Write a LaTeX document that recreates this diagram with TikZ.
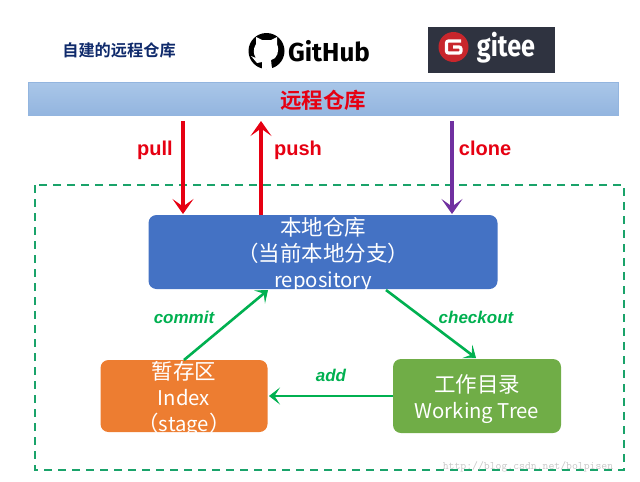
\documentclass[tikz,border=0pt]{standalone}
\usepackage{fontspec}
\setmainfont{Liberation Sans}
\newfontfamily\cjk{Noto Sans CJK SC}
\newfontfamily\cjkb{Noto Sans CJK SC Bold}
\newfontfamily\logofont{Fira Sans}
\usetikzlibrary{arrows.meta}
\newcommand{\latinpart}[1]{{\fontsize{20.3}{26}\selectfont #1}}
\definecolor{barblue}{HTML}{A9C6E8}
\definecolor{barbluedark}{HTML}{93B5DF}
\definecolor{repoblue}{HTML}{4472C4}
\definecolor{stageorange}{HTML}{ED7D31}
\definecolor{treegreen}{HTML}{70AD47}
\definecolor{flowgreen}{HTML}{00B050}
\definecolor{dashgreen}{HTML}{1AA36A}
\definecolor{pullred}{HTML}{E60012}
\definecolor{clonepurple}{HTML}{7030A0}
\definecolor{titlenavy}{HTML}{0F2A6B}
\definecolor{giteedark}{HTML}{2F3340}
\definecolor{giteered}{HTML}{C8262C}
\tikzset{
	area/.style={rounded corners=8pt,text=white,align=center,inner sep=0pt,font=\cjk\fontsize{21.5}{26}\selectfont},
	flow/.style={-{Stealth[length=11pt,width=17pt,inset=5.5pt,line width=0.8pt]},flowgreen,line width=2.6pt},
	remote/.style={-{Stealth[length=15pt,width=21pt,inset=7.5pt,line width=1pt]},line width=3.6pt},
	remotelabel/.style={font=\fontsize{20}{24}\selectfont\bfseries,pullred,inner sep=0pt,anchor=base},
	flowlabel/.style={font=\fontsize{17}{20}\selectfont\bfseries\itshape,flowgreen,inner sep=0pt}
}
\begin{document}
\begin{tikzpicture}[x=1pt,y=-1pt]
	\useasboundingbox (0,0) rectangle (640,482);
	% top row
	\node[font=\cjkb\fontsize{16.2}{18}\selectfont,titlenavy,inner sep=0pt] (selfhost) at (119,50) {自建的远程仓库};
	\fill[black] (266.5,51) circle [radius=18];
	\fill[white] (256,44) -- (256,37) -- (262,40) -- (271,40) -- (277,37) -- (277,44) .. controls (280,51) and (277,59) .. (271,60) -- (272,69) -- (262,69) -- (262,62) -- (257,63) -- (251,56) -- (256,58) .. controls (253,54) and (253,49) .. (256,44) -- cycle;
	\node[font=\logofont\fontsize{26}{28}\selectfont\bfseries,inner sep=0pt] (github) at (329,51) {GitHub};
	\fill[giteedark] (428,27) rectangle (555,73);
	\fill[giteered] (453.5,47) circle [radius=15];
	\draw[white,line width=3.2pt,rounded corners=2pt] (461,41) -- (446.5,41) -- (446.5,53) -- (461,53) -- (461,47) -- (453,47);
	\node[font=\logofont\fontsize{30}{32}\selectfont\bfseries,white,inner sep=0pt,xscale=0.84] (gitee) at (506,48) {gitee};
	% remote bar
	\node[draw=barbluedark,top color=barblue,bottom color=barbluedark,minimum width=590pt,minimum height=33pt,inner sep=0pt] (remotebar) at (323,99) {};
	\node[font=\cjkb\fontsize{21.5}{24}\selectfont,pullred,inner sep=0pt] (remotetext) at (323,100) {远程仓库};
	% local part
	\draw[dashgreen,line width=1.6pt,dash pattern=on 8pt off 6pt] (35,185) rectangle (624,470);
	\node[area,fill=repoblue,minimum width=349pt,minimum height=74pt] (repo) at (323,252) {};
	\node[area] (repotext) at (323,255) {本地仓库\\（当前本地分支）\\\latinpart{repository}};
	\node[area,fill=stageorange,minimum width=167pt,minimum height=72pt] (stage) at (184,396) {};
	\node[area] (stagetext) at (184,399) {暂存区\\\latinpart{Index}\\（\latinpart{stage}）};
	\node[area,fill=treegreen,minimum width=168pt,minimum height=74pt] (tree) at (477,396) {};
	\node[area] (treetext) at (477,399) {工作目录\\\latinpart{Working Tree}};
	% fetching and sending
	\coordinate (pulltop) at (183,121);
	\coordinate (pushtop) at (261,121);
	\coordinate (clonetop) at (452,121);
	\coordinate (pullend) at (183,214);
	\coordinate (pushstart) at (261,215);
	\coordinate (cloneend) at (452,214);
	\draw[remote,pullred] (pulltop) -- (pullend);
	\draw[remote,pullred] (pushstart) -- (pushtop);
	\draw[remote,clonepurple] (clonetop) -- (cloneend);
	\node[remotelabel] (pull) at (155,155) {pull};
	\node[remotelabel] (push) at (298,155) {push};
	\node[remotelabel] (clone) at (485,155) {clone};
	% local flow
	\coordinate (commitstart) at (184,360);
	\coordinate (commitend) at (268,290);
	\coordinate (checkoutstart) at (386,290);
	\coordinate (checkoutend) at (476,358);
	\coordinate (addstart) at (393,396);
	\coordinate (addend) at (269,396);
	\draw[flow] (commitstart) -- (commitend);
	\draw[flow] (checkoutstart) -- (checkoutend);
	\draw[flow] (addstart) -- (addend);
	\node[flowlabel] (commit) at (184,317) {commit};
	\node[flowlabel] (checkout) at (476,317) {checkout};
	\node[flowlabel] (add) at (331,375) {add};
	\node[font=\fontsize{11.4}{12}\selectfont\ttfamily,black!22,inner sep=0pt] (blogmark) at (528,467) {http://blog.csdn.net/bolpisen};
\end{tikzpicture}
\end{document}
